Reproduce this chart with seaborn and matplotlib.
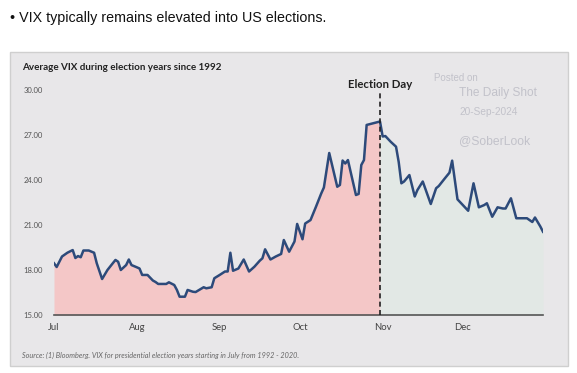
import pandas as pd
import matplotlib
matplotlib.use("Agg")
import matplotlib.pyplot as plt
import matplotlib.dates as mdates
from matplotlib.patches import Rectangle
import seaborn as sns

# days after Jul 1 and average VIX level
days = [0, 1, 3, 5, 7, 8, 9, 10, 11, 13, 15, 16, 18, 20, 22, 23, 24, 25, 27, 28,
        29, 31, 32, 33, 35, 37, 38, 39, 42, 43, 45, 46, 47, 49, 50, 52, 53, 56, 57, 59,
        60, 62, 64, 65, 66, 67, 69, 71, 73, 75, 77, 78, 79, 81, 83, 85, 86, 88, 90, 91,
        93, 94, 96, 98, 100, 101, 103, 106, 107, 108, 109, 110, 111, 113, 114, 115, 116, 117, 122,
        123, 124, 126, 128, 129, 130, 131, 133, 135, 136, 138, 141, 143, 144, 146, 148, 149, 151,
        153, 155, 157, 159, 161, 162, 164, 166, 168, 169, 171, 173, 177, 179, 180, 182, 183]
vix = [18.45, 18.2, 18.9, 19.15, 19.33, 18.8, 18.93, 18.85, 19.3, 19.3, 19.15, 18.45, 17.4, 18.0, 18.45, 18.67, 18.55, 18.0, 18.33, 18.7,
       18.33, 18.18, 18.1, 17.67, 17.67, 17.3, 17.2, 17.07, 17.07, 17.18, 17.0, 16.67, 16.22, 16.22, 16.67, 16.55, 16.53, 16.85, 16.78, 16.85,
       17.45, 17.67, 17.9, 17.9, 19.15, 17.95, 18.1, 18.7, 17.9, 18.22, 18.62, 18.78, 19.38, 18.7, 18.9, 19.07, 20.0, 19.22, 19.9, 21.07,
       20.05, 21.1, 21.33, 22.2, 23.1, 23.5, 25.8, 23.55, 23.67, 25.3, 25.1, 25.33, 24.55, 23.0, 23.07, 25.0, 25.33, 27.67, 27.9,
       26.9, 26.93, 26.55, 26.22, 25.2, 23.78, 23.9, 24.33, 22.9, 23.33, 23.9, 22.4, 23.45, 23.6, 24.05, 24.49, 25.29, 22.71,
       22.33, 21.95, 23.78, 22.18, 22.33, 22.45, 21.55, 22.18, 22.1, 22.1, 22.78, 21.45, 21.45, 21.2, 21.5, 20.9, 20.55]
election_day = "2020-10-31"
yticks = [15, 18, 21, 24, 27, 30]

df = pd.DataFrame({"date": pd.Timestamp("2020-07-01") + pd.to_timedelta(days, unit="D"), "vix": vix})
eday = pd.Timestamp(election_day)
pre = df[df["date"] <= eday]
post = df[df["date"] >= eday]

W, H = 577, 373
fig = plt.figure(figsize=(W / 100, H / 100), dpi=100)
fig.patch.set_facecolor("white")

# grey panel behind everything
fig.patches.append(Rectangle((10 / W, 1 - 366 / H), 558 / W, 314 / H, transform=fig.transFigure,
                             facecolor="#e8e7e9", edgecolor="#cfcfcf", lw=1, zorder=-5))

ax = fig.add_axes([54 / W, 1 - 315 / H, 489 / W, 234 / H])
ax.set_zorder(2)
ax.set_facecolor("none")

ax.fill_between(pre["date"], 15, pre["vix"], color="#f4c7c7", lw=0, zorder=1)
ax.fill_between(post["date"], 15, post["vix"], color="#e2e8e5", lw=0, zorder=1)
sns.lineplot(data=df, x="date", y="vix", ax=ax, color="#2d4a7a", lw=1.8, zorder=3)
ax.axvline(eday, ymin=0, ymax=(29.9 - 15) / 15.6, color="#222222", ls=(0, (3, 2)), lw=1.2, zorder=4)

ax.set_xlim(pd.Timestamp("2020-07-01"), pd.Timestamp("2020-12-31"))
ax.set_ylim(15, 30.6)
ax.set_yticks(yticks)
ax.set_yticklabels([f"{t:.2f}" for t in yticks], fontsize=5.5, color="#555555", family="Lato")
ax.xaxis.set_major_locator(mdates.MonthLocator())
ax.xaxis.set_major_formatter(mdates.DateFormatter("%b"))
for lab in ax.get_xticklabels():
    lab.set_fontsize(6.8)
    lab.set_color("#444444")
    lab.set_family("Lato")
ax.tick_params(axis="both", length=0)
ax.tick_params(axis="x", pad=6)
ax.tick_params(axis="y", pad=8)
ax.set_xlabel("")
ax.set_ylabel("")
for s in ["top", "right", "left"]:
    ax.spines[s].set_visible(False)
ax.spines["bottom"].set_color("#555555")
ax.spines["bottom"].set_linewidth(1.2)

ax.text(eday, 30.0, "Election Day", ha="center", va="bottom", fontsize=8.2,
        fontweight="bold", family="Lato", color="#222222")

# headline and panel texts
fig.text(10 / W, 1 - 18 / H, "\u2022 VIX typically remains elevated into US elections.",
         ha="left", va="center", fontsize=10.3, family="Liberation Sans", color="#111111")
fig.text(22 / W, 1 - 68 / H, "Average VIX during election years since 1992",
         ha="left", va="center", fontsize=7.1, fontweight="bold", family="Lato", color="#222222")
fig.text(22 / W, 1 - 355 / H,
         "Source: (1) Bloomberg. VIX for presidential election years starting in July from 1992 - 2020.",
         ha="left", va="center", fontsize=5.2, style="italic", family="Lato", color="#666666")

# watermark
wm = "#c2c2ca"
fig.text(434 / W, 1 - 78 / H, "Posted on", fontsize=7, color=wm, va="center", family="Liberation Sans")
fig.text(459 / W, 1 - 93 / H, "The Daily Shot", fontsize=8.6, color=wm, va="center", family="Liberation Sans")
fig.text(459 / W, 1 - 112 / H, "20-Sep-2024", fontsize=7.3, color=wm, va="center", family="Liberation Sans")
fig.text(459 / W, 1 - 141 / H, "@SoberLook", fontsize=8.7, color=wm, va="center", family="Liberation Sans")

fig.savefig("out.png", dpi=100)
